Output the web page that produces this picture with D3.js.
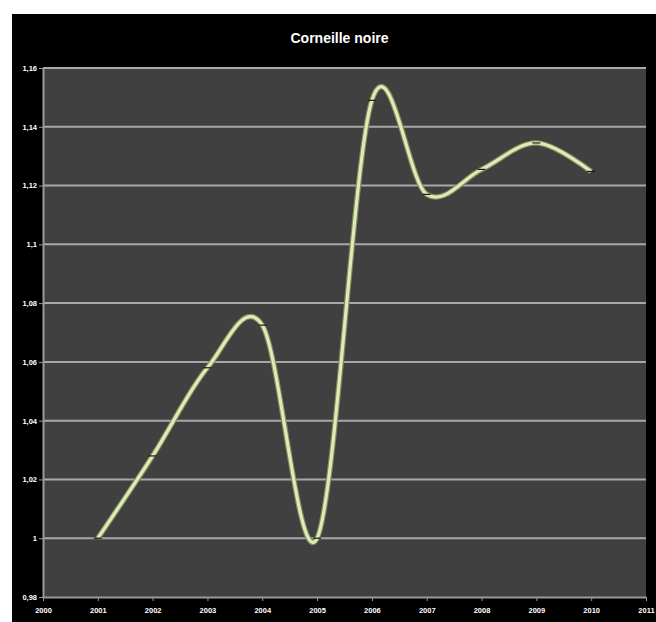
<!DOCTYPE html>
<html><head><meta charset="utf-8">
<script src="https://cdn.jsdelivr.net/npm/d3@7"></script>
<style>html,body{margin:0;padding:0;background:#fff;}svg{display:block;}</style>
</head><body>
<script>
const years = [2001,2002,2003,2004,2005,2006,2007,2008,2009,2010];
const values = [1.000,1.028,1.058,1.0725,1.000,1.149,1.117,1.1255,1.1345,1.1248];
const xTicks = [2000,2001,2002,2003,2004,2005,2006,2007,2008,2009,2010,2011];
const yTicks = [0.98,1.00,1.02,1.04,1.06,1.08,1.10,1.12,1.14,1.16];
const title = "Corneille noire";

const W = 656, H = 622;
const svg = d3.select("body").append("svg").attr("width", W).attr("height", H);
svg.append("rect").attr("x",12).attr("y",14).attr("width",W-12).attr("height",H-14).attr("fill","#000");

const m = {l:43, t:68, r:646, b:597};
const x = d3.scaleLinear().domain([2000,2011]).range([m.l,m.r]);
const y = d3.scaleLinear().domain([0.98,1.16]).range([m.b,m.t]);

svg.append("rect").attr("x",m.l).attr("y",m.t).attr("width",m.r-m.l).attr("height",m.b-m.t).attr("fill","#404040");

// gridlines
svg.append("g").selectAll("line").data(yTicks.slice(1)).join("line")
  .attr("x1",m.l).attr("x2",m.r).attr("y1",d=>y(d)).attr("y2",d=>y(d))
  .attr("stroke","#a8a8a8").attr("stroke-width",2);

const fmt = d => d3.format(".2~f")(d).replace(".",",");

const ya = svg.append("g").attr("transform",`translate(${m.l},0)`)
  .call(d3.axisLeft(y).tickValues(yTicks).tickFormat(fmt).tickSize(4).tickSizeOuter(0));
const xa = svg.append("g").attr("transform",`translate(0,${m.b})`)
  .call(d3.axisBottom(x).tickValues(xTicks).tickFormat(d3.format("d")).tickSize(4).tickSizeOuter(0));
[ya,xa].forEach(a=>{
  a.select(".domain").attr("stroke","#9a9a9a").attr("stroke-width",2);
  a.selectAll(".tick line").attr("stroke","#9a9a9a");
  a.selectAll("text").attr("fill","#fff").attr("font-family","Liberation Sans Narrow, Arial Narrow, sans-serif")
    .attr("font-size",7.5).attr("font-weight","bold");
});
ya.selectAll("text").attr("x",-6);
xa.selectAll("text").attr("y",11);

const pts = years.map((yr,i)=>[yr,values[i]]);
const line = d3.line().x(d=>x(d[0])).y(d=>y(d[1])).curve(d3.curveCardinal.tension(0));
svg.append("path").attr("d",line(pts)).attr("fill","none").attr("stroke","#7d8c58").attr("stroke-width",5.5);
svg.append("path").attr("d",line(pts)).attr("fill","none").attr("stroke","#dfeab9").attr("stroke-width",3.2);

svg.append("g").selectAll("line").data(pts).join("line")
  .attr("x1",d=>x(d[0])-4).attr("x2",d=>x(d[0])+4).attr("y1",d=>y(d[1])).attr("y2",d=>y(d[1]))
  .attr("stroke","#1a1a1a").attr("stroke-width",1.2);

svg.append("text").attr("x",(m.l+m.r)/2-5).attr("y",43).attr("text-anchor","middle")
  .attr("fill","#fff").attr("font-family","Liberation Sans Narrow, Arial Narrow, sans-serif")
  .attr("font-weight","bold").attr("font-size",14).text(title);
</script>
</body></html>
